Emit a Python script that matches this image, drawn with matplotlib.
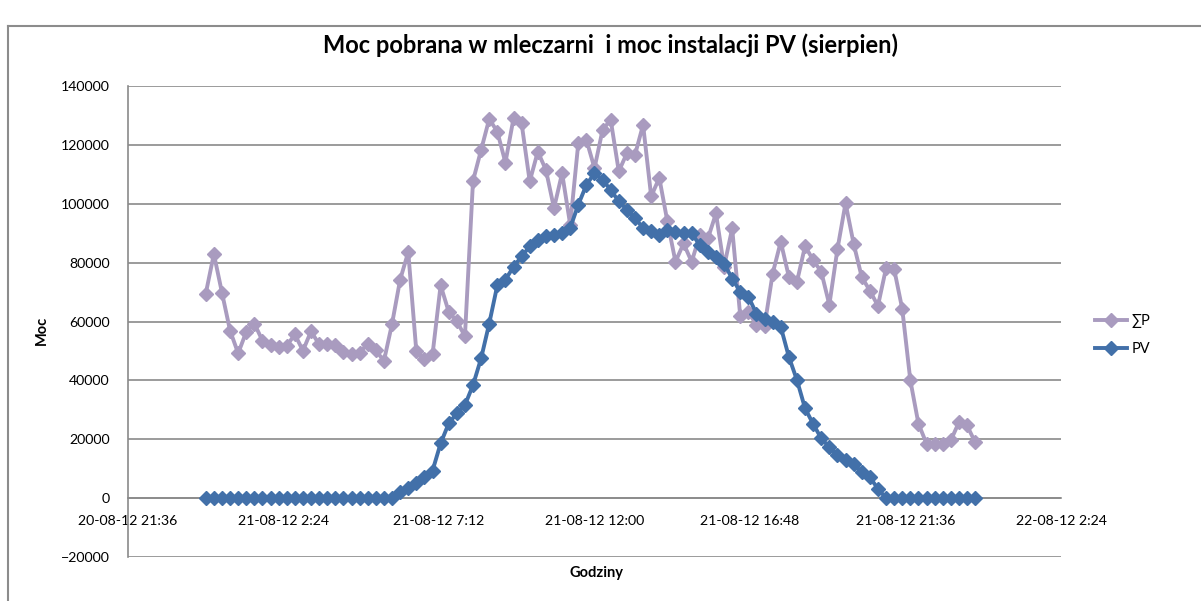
import datetime as dt
import matplotlib
matplotlib.use('Agg')
import matplotlib.pyplot as plt
import matplotlib.dates as mdates
from matplotlib.lines import Line2D
from matplotlib.ticker import FuncFormatter

# 15-minute readings, 21-08-2012 00:00 .. 23:45
start = dt.datetime(2012, 8, 21, 0, 0)
times = [start + dt.timedelta(minutes=15 * i) for i in range(96)]

suma_p = [69500, 82900, 69800, 56900, 49200, 56500, 59300, 53500, 52000, 51400,
          51800, 55600, 50100, 56700, 52200, 52200, 52000, 49700, 48800, 49400,
          52500, 50200, 46600, 59200, 74200, 83600, 49900, 47100, 48800, 72300,
          63300, 60100, 55000, 107800, 118300, 128800, 124500, 114000, 129000, 127300,
          107600, 117700, 111500, 98500, 110400, 92900, 120600, 121700, 112100, 125100,
          128500, 111000, 117200, 116600, 126800, 102500, 108800, 94000, 80300, 86500,
          80300, 89300, 88200, 96700, 78600, 91600, 61800, 63300, 58800, 58500,
          76300, 87100, 75200, 73500, 85600, 80900, 76900, 65700, 84600, 100200,
          86400, 75100, 70500, 65300, 78100, 77800, 64300, 40000, 25300, 18500,
          18500, 18500, 19600, 25800, 24700, 19000]

pv = [0] * 24 + [2000, 3400, 5100, 7300, 9300, 18600, 25400, 28800, 31600, 38400,
                 47500, 59300, 72300, 74200, 78600, 82100, 85500, 87800, 88900, 89500,
                 90100, 91800, 99700, 106400, 110400, 108100, 104700, 100800, 98000, 95100,
                 91800, 90600, 89500, 91000, 90500, 90100, 89900, 86000, 83700, 82000,
                 79700, 74600, 70100, 68400, 62700, 61000, 59900, 58200, 48000, 40100,
                 30500, 25200, 20300, 17300, 14500, 12800, 11700, 8800, 7100, 3200] + [0] * 12

x_start = dt.datetime(2012, 8, 20, 21, 36)
x_end = dt.datetime(2012, 8, 22, 2, 24)
x_ticks = [x_start + dt.timedelta(hours=4.8 * k) for k in range(7)]
y_ticks = list(range(-20000, 140001, 20000))

plt.rcParams['font.family'] = ['Lato', 'DejaVu Sans']

fig = plt.figure(figsize=(12.01, 6.01), dpi=100)
ax = fig.add_axes([0.1066, 0.0732, 0.7768, 0.7837])

purple = '#A99BBF'
blue = '#4270A9'
ax.plot(times, suma_p, color=purple, lw=2.8, marker='D', ms=7, label='∑P', zorder=3)
ax.plot(times, pv, color=blue, lw=2.8, marker='D', ms=7, label='PV', zorder=4)

ax.set_xlim(x_start, x_end)
ax.set_ylim(-20000, 140000)
ax.set_yticks(y_ticks)
ax.set_xticks(x_ticks)
ax.xaxis.set_major_formatter(FuncFormatter(
    lambda v, pos: (lambda d: f"{d:%d-%m-%y} {d.hour}:{d:%M}")(mdates.num2date(v))))
ax.grid(axis='y', color='#8a8a8a', lw=1.2)
ax.set_axisbelow(True)

for s in ['top', 'right']:
    ax.spines[s].set_visible(False)
ax.spines['left'].set_color('#8a8a8a')
ax.spines['left'].set_linewidth(1.2)
ax.spines['bottom'].set_position(('data', 0))
ax.spines['bottom'].set_color('#8a8a8a')
ax.spines['bottom'].set_linewidth(1.2)
ax.tick_params(axis='both', length=0, labelsize=10.2, colors='black')
ax.tick_params(axis='x', pad=12)
ax.tick_params(axis='y', pad=13)

fig.text(0.508, 0.925, 'Moc pobrana w mleczarni  i moc instalacji PV (sierpien)',
         ha='center', va='center', fontsize=17, fontweight='bold')
fig.text(42 / 1201, 1 - 330 / 601, 'Moc', rotation=90, ha='center', va='center',
         fontsize=10.5, fontweight='bold')
fig.text(596 / 1201, 1 - 573 / 601, 'Godziny', ha='center', va='center',
         fontsize=10.5, fontweight='bold')

fig.legend(loc='center left', bbox_to_anchor=(1082 / 1201, 1 - 335 / 601),
           frameon=False, fontsize=10.5, handlelength=2.2, labelspacing=1.0,
           handletextpad=0.3)

# chart area border
fig.add_artist(Line2D([8 / 1201, 8 / 1201], [0, 1 - 26 / 601], color='#8c8c8c', lw=1.5))
fig.add_artist(Line2D([8 / 1201, 1], [1 - 26 / 601, 1 - 26 / 601], color='#8c8c8c', lw=1.5))

fig.savefig('out.png', dpi=100)
